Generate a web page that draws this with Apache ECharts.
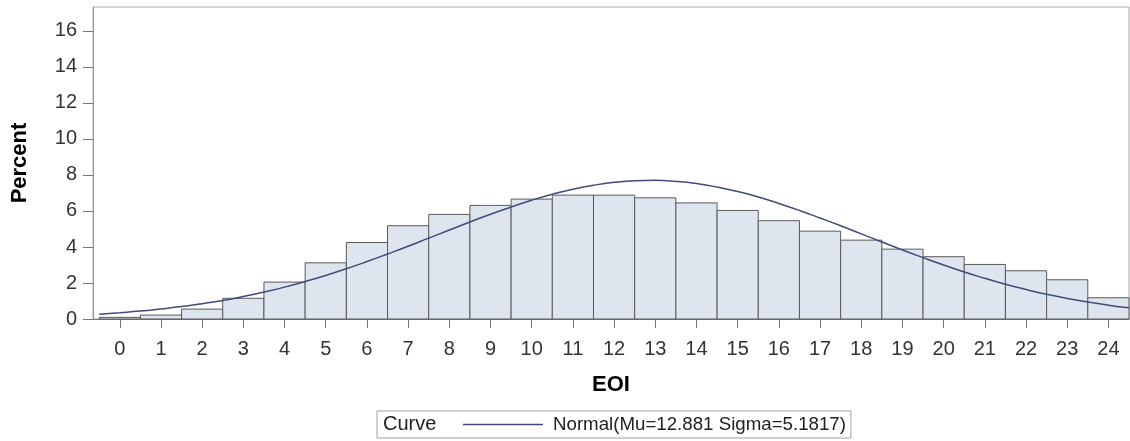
<!DOCTYPE html>
<html>
<head>
<meta charset="utf-8">
<script src="https://cdn.jsdelivr.net/npm/echarts@6/dist/echarts.min.js"></script>
<style>
html,body{margin:0;padding:0;background:#fff;}
#chart{width:1130px;height:441px;}
</style>
</head>
<body>
<div id="chart"></div>
<script>
// EOI bins (midpoints) and percent per bin
const binMids = [0,1,2,3,4,5,6,7,8,9,10,11,12,13,14,15,16,17,18,19,20,21,22,23,24];
const binPercent = [0.09,0.22,0.55,1.15,2.05,3.12,4.25,5.18,5.81,6.31,6.66,6.88,6.88,6.73,6.45,6.03,5.46,4.88,4.38,3.88,3.46,3.03,2.68,2.18,1.18];
// Fitted normal curve
const curveX = [-0.5,0,0.5,1,1.5,2,2.5,3,3.5,4,4.5,5,5.5,6,6.5,7,7.5,8,8.5,9,9.5,10,10.5,11,11.5,12,12.5,13,13.5,14,14.5,15,15.5,16,16.5,17,17.5,18,18.5,19,19.5,20,20.5,21,21.5,22,22.5,23,23.5,24,24.5];
const curveY = [0.27,0.35,0.44,0.56,0.69,0.85,1.03,1.25,1.50,1.77,2.08,2.42,2.79,3.19,3.61,4.04,4.49,4.94,5.39,5.82,6.22,6.60,6.93,7.21,7.43,7.59,7.68,7.70,7.64,7.52,7.33,7.08,6.78,6.42,6.03,5.61,5.18,4.73,4.28,3.83,3.41,3.00,2.61,2.26,1.93,1.64,1.37,1.14,0.94,0.77,0.62];
const xTicks = [0,1,2,3,4,5,6,7,8,9,10,11,12,13,14,15,16,17,18,19,20,21,22,23,24];
const yTicks = [0,2,4,6,8,10,12,14,16];
const curveName = 'Normal(Mu=12.881 Sigma=5.1817)';
const legendTitle = 'Curve';
const xTitle = 'EOI';
const yTitle = 'Percent';

const FONT = '"Liberation Sans", Arial, sans-serif';
const chart = echarts.init(document.getElementById('chart'));
const barData = binMids.map((m, i) => [m, binPercent[i]]);
const curveData = curveX.map((x, i) => [x, curveY[i]]);

chart.setOption({
  animation: false,
  backgroundColor: '#fff',
  grid: {left: 93, top: 7, right: 1, bottom: 122, containLabel: false, outerBoundsMode: 'none',
         show: true, borderColor: '#a8a8a8', borderWidth: 1, backgroundColor: 'transparent'},
  xAxis: {
    type: 'value', min: -0.65, max: 24.5,
    name: xTitle, nameLocation: 'middle', nameGap: 55,
    nameTextStyle: {fontFamily: FONT, fontSize: 22, fontWeight: 'bold', color: '#000'},
    axisLine: {show: true, onZero: false, lineStyle: {color: '#777', width: 1}},
    axisTick: {show: true, length: 9, lineStyle: {color: '#777'}, customValues: xTicks},
    axisLabel: {fontFamily: FONT, fontSize: 20, color: '#333', margin: 20, customValues: xTicks},
    splitLine: {show: false}
  },
  yAxis: {
    type: 'value', min: 0, max: 17.33,
    name: yTitle, nameLocation: 'middle', nameGap: 62, nameRotate: 90,
    nameTextStyle: {fontFamily: FONT, fontSize: 22, fontWeight: 'bold', color: '#000'},
    axisLine: {show: true, onZero: false, lineStyle: {color: '#999', width: 1}},
    axisTick: {show: true, length: 10, lineStyle: {color: '#777'}, customValues: yTicks},
    axisLabel: {fontFamily: FONT, fontSize: 20, color: '#333', margin: 16, customValues: yTicks},
    splitLine: {show: false}
  },
  legend: {
    show: true, left: 377, top: 411,
    data: [{name: curveName, icon: 'rect', itemStyle: {color: '#3f4b7a'}}],
    borderColor: '#a0a0a0', borderWidth: 1,
    padding: [4, 5, 4, 86],
    itemWidth: 80, itemHeight: 1.5,
    textStyle: {fontFamily: FONT, fontSize: 18.7, color: '#222', padding: [0, 0, 0, 5]},
    selectedMode: false
  },
  graphic: [{
    type: 'text', left: 383, top: 414,
    style: {text: legendTitle, font: '20px ' + FONT, fill: '#222'}
  }],
  series: [{
    type: 'custom',
    name: 'Percent',
    data: barData,
    encode: {x: 0, y: 1},
    renderItem: function (params, api) {
      const x = api.value(0), y = api.value(1);
      const p0 = api.coord([x - 0.5, y]);
      const p1 = api.coord([x + 0.5, 0]);
      return {
        type: 'rect',
        shape: {x: p0[0], y: p0[1], width: p1[0] - p0[0], height: p1[1] - p0[1]},
        style: {fill: '#dfe5ef', stroke: '#5a5a5a', lineWidth: 1}
      };
    },
    z: 2
  }, {
    type: 'line',
    name: curveName,
    data: curveData,
    symbol: 'none',
    smooth: true,
    lineStyle: {color: '#3f4b7a', width: 1.5},
    itemStyle: {color: '#3f4b7a'},
    z: 3
  }]
});
</script>
</body>
</html>
